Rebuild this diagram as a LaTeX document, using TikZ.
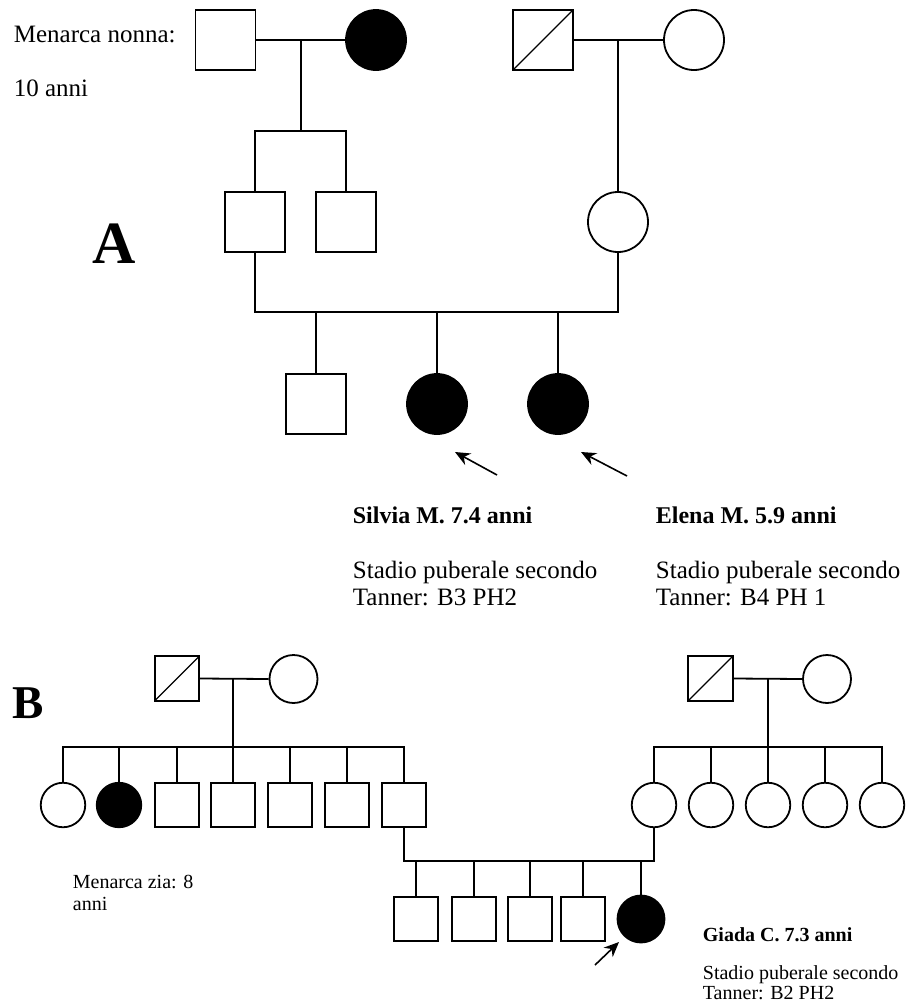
\documentclass[tikz,border=0pt]{standalone}
\usepackage{fontspec}
\setmainfont{Liberation Serif}
\usetikzlibrary{positioning,arrows.meta,calc}

\tikzset{
    male/.style={draw,rectangle,minimum size=#1,inner sep=0pt},
    female/.style={draw,circle,minimum size=#1,inner sep=0pt},
    aff/.style={fill=black},
    dead/.style={path picture={\draw[line width=1.2pt] (path picture bounding box.south west) -- (path picture bounding box.north east);}},
    pointer/.style={-{Stealth[length=15pt,width=13pt]},line width=1.6pt},
    txtA/.style={inner sep=0pt,anchor=base west,font=\fontsize{25}{28}\selectfont},
    txtB/.style={inner sep=0pt,anchor=base west,font=\fontsize{20}{22}\selectfont},
}

\begin{document}
\begin{tikzpicture}[x=1pt,y=-1pt,line width=1.8pt]

            \useasboundingbox (0,0) rectangle (907,1005);

            % ---------- A ----------
            \def\sa{60}
            \node[txtA] (nonna) at (13,42) {Menarca nonna:};
            \node[txtA] (nonnaeta) at (13,96) {10 anni};
            \node[txtA,font=\fontsize{60}{60}\selectfont\bfseries] (lettA) at (92,263) {A};

            % grandparents
            \node[male=\sa] (gfA) at (225.5,40) {};
            \node[female=\sa,aff] (gmA) at (376,40) {};
            \node[male=\sa,dead] (gf2A) at (543,40) {};
            \node[female=\sa] (gm2A) at (694,40) {};

            % parents and uncle
            \node[male=\sa] (dadA) at (255,222) {};
            \node[male=\sa] (unclA) at (346,222) {};
            \node[female=\sa] (momA) at (618,222) {};

            % children
            \node[male=\sa] (broA) at (316,404) {};
            \node[female=\sa,aff] (silvia) at (437,404) {};
            \node[female=\sa,aff] (elena) at (558,404) {};

            \draw (gfA.east) -- (gmA.west);
            \coordinate (sA1) at (301,131);
            \draw (sA1 |- gfA.east) -- (sA1);
            \draw (dadA.north) -- (dadA.north |- sA1) -- (unclA.north |- sA1) -- (unclA.north);

            \draw (gf2A.east) -- (gm2A.west);
            \draw (momA.north |- gf2A.east) -- (momA.north);

            \coordinate (cA) at (437,312);
            \draw (dadA.south) -- (dadA.south |- cA) -| (momA.south);
            \draw (broA.north) -- (broA.north |- cA);
            \draw (silvia.north) -- (silvia.north |- cA);
            \draw (elena.north) -- (elena.north |- cA);

            \coordinate (tS) at (497,475);
            \coordinate (hS) at (455,452);
            \draw[pointer] (tS) -- (hS);
            \coordinate (tE) at (627,476);
            \coordinate (hE) at (581,452);
            \draw[pointer] (tE) -- (hE);

            \node[txtA,font=\fontsize{24}{28}\selectfont\bfseries] (silvianame) at (352,523) {Silvia M. 7.4 anni};
            \node[txtA] (silviast) at (352,578) {Stadio puberale secondo};
            \node[txtA] (silviatn) at (352,605) {Tanner: B3 PH2};
            \node[txtA,font=\fontsize{24}{28}\selectfont\bfseries] (elenaname) at (655,523) {Elena M. 5.9 anni};
            \node[txtA] (elenast) at (655,578) {Stadio puberale secondo};
            \node[txtA] (elenatn) at (655,605) {Tanner: B4 PH 1};

            % ---------- B ----------
            \def\sb{44.5}
            \node[txtA,font=\fontsize{47}{47}\selectfont\bfseries] (lettB) at (12,718) {B};

            % paternal side
            \node[male=\sb,dead] (gfB) at (177,678.5) {};
            \node[female=48] (gmB) at (293.5,679) {};
            \node[female=\sb] (aunt1) at (63,805) {};
            \node[female=\sb,aff] (aunt2) at (119,805) {};
            \node[male=\sb] (uncB1) at (177,805) {};
            \node[male=\sb] (uncB2) at (233,805) {};
            \node[male=\sb] (uncB3) at (290,805) {};
            \node[male=\sb] (uncB4) at (347,805) {};
            \node[male=\sb] (dadB) at (404,805) {};

            \draw (gfB.east) -- (gmB.west);
            \coordinate (sB1) at (233,747);
            \draw (uncB2.north |- gfB.east) -- (uncB2.north);
            \draw (aunt1.north) -- (aunt1.north |- sB1) -- (dadB.north |- sB1) -- (dadB.north);
            \draw (aunt2.north) -- (aunt2.north |- sB1);
            \draw (uncB1.north) -- (uncB1.north |- sB1);
            \draw (uncB3.north) -- (uncB3.north |- sB1);
            \draw (uncB4.north) -- (uncB4.north |- sB1);

            % maternal side
            \node[male=\sb,dead] (gf2B) at (710.5,678.5) {};
            \node[female=48] (gm2B) at (827,679) {};
            \node[female=\sb] (momB) at (654,805) {};
            \node[female=\sb] (zia1) at (711,805) {};
            \node[female=\sb] (zia2) at (768,805) {};
            \node[female=\sb] (zia3) at (825,805) {};
            \node[female=\sb] (zia4) at (882,805) {};

            \draw (gf2B.east) -- (gm2B.west);
            \coordinate (sB2) at (768,747);
            \draw (zia2.north |- gf2B.east) -- (zia2.north);
            \draw (momB.north) -- (momB.north |- sB2) -- (zia4.north |- sB2) -- (zia4.north);
            \draw (zia1.north) -- (zia1.north |- sB2);
            \draw (zia3.north) -- (zia3.north |- sB2);

            % children
            \node[male=\sb] (kid1) at (416,919) {};
            \node[male=\sb] (kid2) at (474,919) {};
            \node[male=\sb] (kid3) at (530,919) {};
            \node[male=\sb] (kid4) at (583,919) {};
            \node[female=47,aff] (giada) at (641,919) {};

            \coordinate (cB) at (530,861);
            \draw (dadB.south) -- (dadB.south |- cB) -| (momB.south);
            \draw (kid1.north) -- (kid1.north |- cB);
            \draw (kid2.north) -- (kid2.north |- cB);
            \draw (kid3.north) -- (kid3.north |- cB);
            \draw (kid4.north) -- (kid4.north |- cB);
            \draw (giada.north) -- (giada.north |- cB);

            \coordinate (tG) at (595,965);
            \coordinate (hG) at (619,942);
            \draw[pointer] (tG) -- (hG);

            \node[txtB] (zia) at (72,888) {Menarca zia: 8};
            \node[txtB] (ziaeta) at (72,910) {anni};
            \node[txtB,font=\fontsize{20}{22}\selectfont\bfseries] (giadaname) at (702,941) {Giada C. 7.3 anni};
            \node[txtB] (giadast) at (702,979) {Stadio puberale secondo};
            \node[txtB] (giadatn) at (702,999) {Tanner: B2 PH2};

        \end{tikzpicture}
\end{document}
